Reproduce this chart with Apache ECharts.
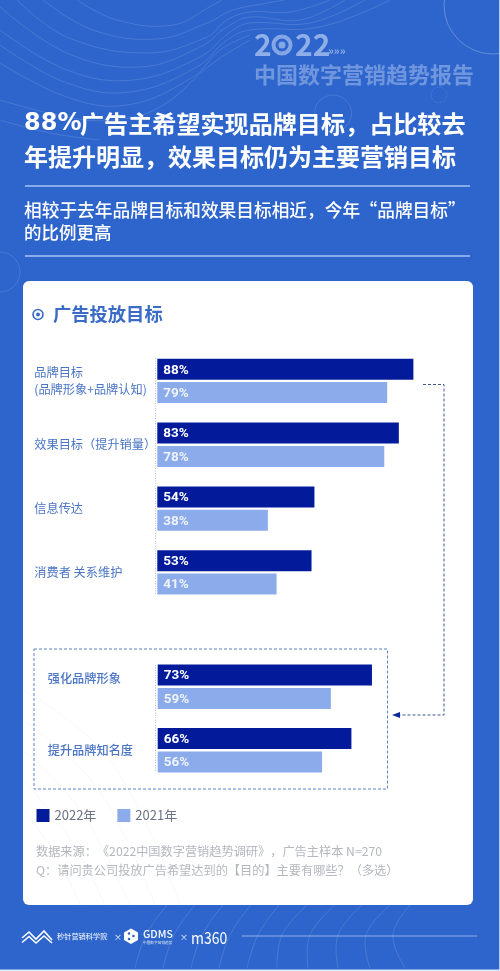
<!DOCTYPE html>
<html>
<head>
<meta charset="utf-8">
<style>html,body{margin:0;padding:0;background:#fff}#chart{width:500px;height:971px}</style>
<script src="https://cdn.jsdelivr.net/npm/echarts@6/dist/echarts.min.js"></script>
</head>
<body>
<div id="chart"></div>
<script>
var seriesNames = ['2022年', '2021年']
var goalCategories = ['品牌目标\n(品牌形象+品牌认知)', '效果目标（提升销量）', '信息传达', '消费者 关系维护']
var goal2022 = [88, 83, 54, 53]
var goal2021 = [79, 78, 38, 41]
var brandCategories = ['强化品牌形象\n', '提升品牌知名度']
var brand2022 = [73, 66]
var brand2021 = [59, 56]

var CJK = '"Noto Sans CJK SC", "Noto Sans", sans-serif'
var DARK = '#031b9b'
var LIGHT = '#8cabea'
var BLUE = '#2d65cc'
var LABEL = '#4a74c4'

var chart = echarts.init(document.getElementById('chart'))

function text(x, y, str, size, fill, weight, family) {
  return {
    type: 'text', x: x, y: y, z: 5, silent: true,
    style: {
      text: str, fill: fill, font: (weight || 400) + ' ' + size + 'px ' + (family || CJK),
      verticalAlign: 'middle'
    }
  }
}
function line(x1, y1, x2, y2, stroke, width, dash) {
  return {
    type: 'line', z: 4, silent: true,
    shape: {x1: x1, y1: y1, x2: x2, y2: y2},
    style: {stroke: stroke, lineWidth: width, lineDash: dash || null}
  }
}
function contour(points, stroke, z) {
  return {
    type: 'polyline', z: z || 1, silent: true,
    shape: {points: points, smooth: 0.4},
    style: {fill: null, stroke: stroke, lineWidth: 1}
  }
}
function zigzag(points, stroke, width) {
  return {
    type: 'polyline', z: 4, silent: true,
    shape: {points: points},
    style: {fill: null, stroke: stroke, lineWidth: width}
  }
}
function ring(cx, cy, r, stroke, width, z) {
  return {
    type: 'circle', z: z || 1, silent: true,
    shape: {cx: cx, cy: cy, r: r},
    style: {fill: null, stroke: stroke, lineWidth: width}
  }
}
function dot(cx, cy, r, fill) {
  return {type: 'circle', z: 5, silent: true, shape: {cx: cx, cy: cy, r: r}, style: {fill: fill}}
}

// background contour lines, traced by eye
var bgLine = 'rgba(255,255,255,0.13)'
var cardLine = 'rgba(60,110,210,0.05)'
var topLines = [
  [[77, 0], [117, 20], [173, 25], [213, 5], [222, 0]],
  [[43, 0], [93, 30], [157, 39], [207, 23], [233, 10], [262, 4], [285, 0]],
  [[17, 0], [67, 37], [147, 53], [207, 37], [227, 20], [250, 12], [290, 12], [330, 0]],
  [[0, 7], [67, 53], [140, 67], [200, 47], [227, 27], [250, 17], [300, 20], [345, 0]],
  [[0, 30], [67, 70], [133, 80], [200, 57], [230, 32], [250, 23], [310, 23], [365, 0]],
  [[0, 45], [67, 83], [130, 92], [197, 67], [227, 40], [250, 30], [320, 27], [390, 0]],
  [[0, 63], [67, 97], [127, 105], [193, 77], [220, 50], [250, 35]],
  [[0, 100], [67, 117], [113, 120], [160, 107], [213, 63], [250, 40]],
  [[0, 120], [50, 133], [100, 140]]
]
var footLines = [
  [[135, 968], [146, 935], [167, 905]],
  [[163, 968], [174, 935], [195, 905]],
  [[191, 968], [202, 935], [223, 905]],
  [[219, 968], [230, 935], [251, 905]],
  [[247, 968], [258, 935], [279, 905]],
  [[277, 968], [282, 935], [307, 905]],
  [[308, 968], [310, 935], [335, 905]],
  [[338, 968], [338, 935], [362, 905]],
  [[370, 968], [366, 935], [390, 905]],
  [[405, 968], [393, 935], [410, 905]]
]
var cardLines = [
  [[23, 690], [110, 760], [180, 905]],
  [[23, 720], [95, 785], [155, 905]],
  [[23, 750], [80, 810], [130, 905]],
  [[23, 780], [68, 835], [105, 905]],
  [[23, 810], [56, 855], [80, 905]]
]

var deco = topLines.concat(footLines).map(function(p) { return contour(p, bgLine) }).concat([
  ring(493, 5, 49, 'rgba(255,255,255,0.25)', 1),
  ring(333, 113.5, 18.5, 'rgba(255,255,255,0.12)', 1),
  ring(439, 95, 8, 'rgba(255,255,255,0.08)', 1),
  ring(0, 272, 20, 'rgba(255,255,255,0.12)', 1)
])
var cardDeco = cardLines.map(function(p) { return contour(p, cardLine, 3) })

var HEAD = 'rgba(205,220,248,0.62)'
var m360 = text(191, 937.5, 'm360', 16.5, '#fff', 400)
m360.scaleX = 0.85

var shapes = deco.concat([
  {type: 'rect', z: 2, silent: true, shape: {x: 23, y: 281, width: 450, height: 624, r: 6}, style: {fill: '#fff'}},
  // pale trim on the picture's right and bottom edge
  {type: 'rect', z: 2, silent: true, shape: {x: 499.2, y: 0, width: 1, height: 971}, style: {fill: '#dce7f8'}},
  {type: 'rect', z: 2, silent: true, shape: {x: 0, y: 969.5, width: 500, height: 2}, style: {fill: '#dce7f8'}}
], cardDeco, [
  // header mark
  text(254, 45, '2', 30, HEAD, 700),
  ring(282, 45, 8.5, 'rgba(205,220,248,0.55)', 4, 4),
  dot(282, 45, 3.5, 'rgba(205,220,248,0.55)'),
  text(295, 45, '22', 30, HEAD, 700),
  text(328, 51, '»»»', 11, HEAD, 700),
  text(254, 75, '中国数字营销趋势报告', 22, 'rgba(205,220,248,0.42)', 700),

  // headline
  text(24, 124, '88%', 24, '#fff', 700, '"DejaVu Sans"'),
  text(80, 124, '广告主希望实现品牌目标，占比较去', 24.1, '#fff', 700),
  text(24, 157, '年提升明显，效果目标仍为主要营销目标', 24, '#fff', 700),
  line(25, 186, 470, 186, '#a6c2f3', 1.5),
  text(24, 210, '相较于去年品牌目标和效果目标相近，今年', 17.7, '#fff', 500),
  text(359.5, 210, '“品牌目标”', 17.7, '#fff', 500),
  text(24, 232, '的比例更高', 17.5, '#fff', 500),
  line(25, 256, 470, 256, '#a6c2f3', 1.5),

  // card title
  ring(38, 314.5, 5, '#3a6cc6', 1.6, 4),
  dot(38, 314.5, 2, '#3a6cc6'),
  text(53, 314, '广告投放目标', 18.3, '#3a6cc6', 700),

  // axis rules
  line(155.5, 358, 155.5, 595, '#aebfdf', 1, [1, 1.5]),
  line(155.5, 665, 155.5, 772, '#aebfdf', 1, [1, 1.5]),

  // dashed box and connector
  {type: 'rect', z: 4, silent: true, shape: {x: 34, y: 649, width: 353.5, height: 140}, style: {fill: null, stroke: '#5f83c6', lineWidth: 1, lineDash: [3, 2]}},
  {type: 'polyline', z: 4, silent: true, shape: {points: [[423, 384.5], [444, 384.5], [444, 715], [398, 715]]}, style: {fill: null, stroke: '#41578f', lineWidth: 1, lineDash: [3, 2]}},
  {type: 'polygon', z: 4, silent: true, shape: {points: [[392, 715], [400, 712], [400, 718]]}, style: {fill: '#0d2a9a'}},

  // source note
  text(36, 851.5, '数据来源：\u200b《2022中国数字营销趋势调研》\u200b，广告主样本 N=270', 12.2, '#b4b7bd'),
  text(36, 870.5, 'Q：请问贵公司投放广告希望达到的【目的】主要有哪些？\u200b（多选）', 12.2, '#b4b7bd'),

  // footer logos
  zigzag([[22, 938], [29, 932], [36, 939], [44, 931], [52, 940]], '#fff', 1.6),
  zigzag([[22, 942.5], [29, 936.5], [36, 943], [44, 936], [52, 943]], '#fff', 1.6),
  text(57, 936.5, '秒针营销科学院', 7.2, 'rgba(255,255,255,0.85)', 500),
  text(114, 937, '×', 8, '#fff'),
  {type: 'polygon', z: 4, silent: true, shape: {points: [[131, 928.5], [138, 932.5], [138, 940], [131, 944], [124, 940], [124, 932.5]]}, style: {fill: '#fff'}},
  dot(129, 933.5, 1.3, BLUE),
  dot(133.5, 936, 1.3, BLUE),
  dot(129, 939, 1.3, BLUE),
  text(143, 934, 'GDMS', 10.5, '#fff', 500),
  text(143, 943, '中国数字营销趋势', 3.7, 'rgba(255,255,255,0.8)'),
  text(180, 937, '×', 8, '#fff'),
  m360,
  line(242, 936, 477, 936, 'rgba(255,255,255,0.5)', 1)
])

function barSeries(name, data, color, axisIndex, labelColor) {
  return {
    name: name,
    type: 'bar',
    xAxisIndex: axisIndex,
    yAxisIndex: axisIndex,
    data: data,
    barWidth: 21,
    barGap: '11%',
    itemStyle: {color: color},
    label: {
      show: true,
      position: 'insideLeft',
      distance: 6,
      offset: [0, 1],
      formatter: '{c}%',
      color: labelColor,
      fontFamily: 'Roboto',
      fontWeight: 700,
      fontSize: 13.5
    },
    z: 6
  }
}

function valueAxis(gridIndex) {
  return {type: 'value', gridIndex: gridIndex, min: 0, max: 100, show: false}
}

function categoryAxis(gridIndex, data, margin, lift, weight) {
  return {
    type: 'category',
    gridIndex: gridIndex,
    inverse: true,
    z: 6,
    data: data,
    axisLine: {show: false},
    axisTick: {show: false},
    axisLabel: {
      margin: margin,
      align: 'left',
      color: LABEL,
      fontFamily: CJK,
      fontSize: 12.2,
      fontWeight: weight,
      lineHeight: 17,
      padding: [0, 0, lift, 0]
    }
  }
}

chart.setOption({
  animation: false,
  backgroundColor: BLUE,
  textStyle: {fontFamily: CJK},
  legend: {
    left: 31.5,
    top: 804,
    itemWidth: 13,
    itemHeight: 13,
    itemGap: 21,
    icon: 'rect',
    data: seriesNames,
    textStyle: {color: '#6b7384', fontSize: 13, fontFamily: CJK}
  },
  grid: [
    {left: 157.3, top: 349, width: 291, height: 255.3},
    {left: 157.7, top: 655, width: 293.5, height: 127}
  ],
  xAxis: [valueAxis(0), valueAxis(1)],
  yAxis: [categoryAxis(0, goalCategories, 123, 6, 400), categoryAxis(1, brandCategories, 110, 3, 500)],
  series: [
    barSeries(seriesNames[0], goal2022, DARK, 0, '#fff'),
    barSeries(seriesNames[1], goal2021, LIGHT, 0, 'rgba(255,255,255,0.85)'),
    barSeries(seriesNames[0], brand2022, DARK, 1, '#fff'),
    barSeries(seriesNames[1], brand2021, LIGHT, 1, 'rgba(255,255,255,0.85)')
  ],
  graphic: {elements: shapes}
})
</script>
</body>
</html>
